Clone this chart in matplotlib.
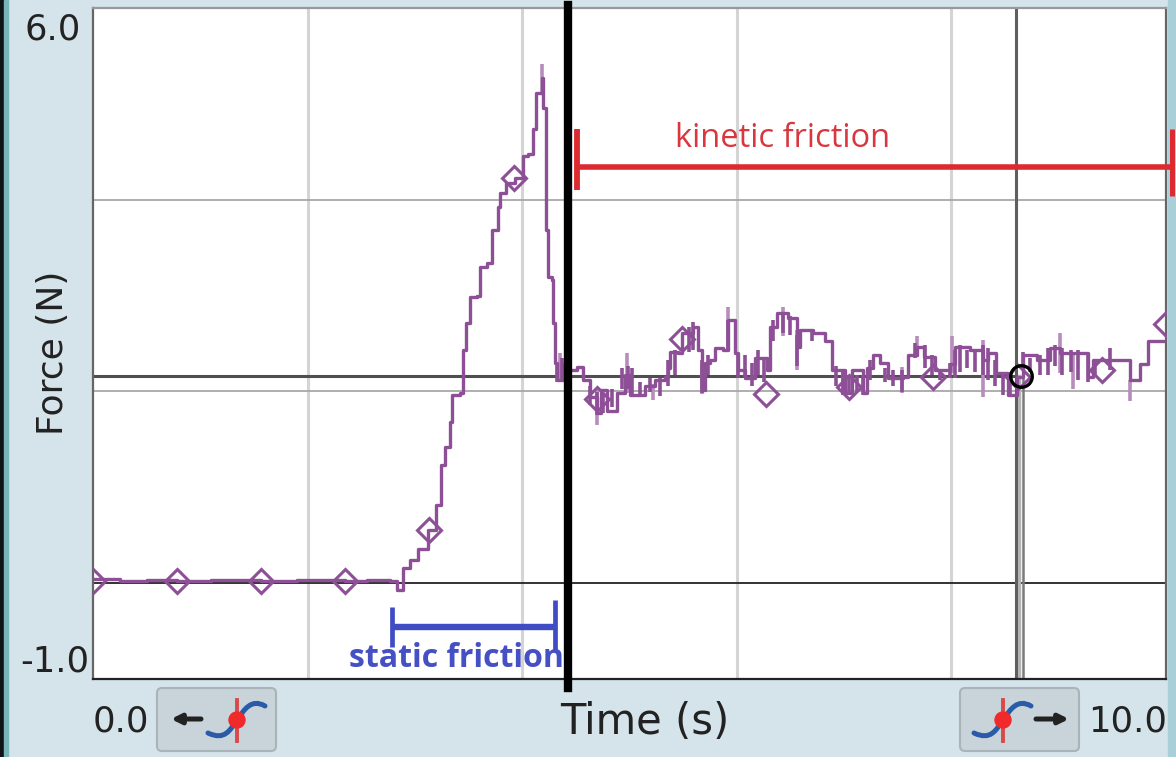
import matplotlib
matplotlib.use("Agg")
import matplotlib.pyplot as plt
from matplotlib.patches import FancyBboxPatch, Rectangle, Circle, PathPatch
from matplotlib.path import Path

# ---- data (time in s, force in N) ----
time_s = [0.00,0.25,0.50,0.78,1.10,1.57,1.90,2.35,2.55,2.77,2.83,2.89,2.95,3.03,3.12,3.20,3.24,3.28,3.33,3.35,3.42,3.45,3.48,3.51,
          3.58,3.61,3.67,3.72,3.77,3.79,3.85,3.93,4.01,4.05,4.10,4.13,4.18,4.19,4.22,4.24,4.28,4.29,4.31,4.32,
          4.37,4.38,4.43,4.51,4.57,4.63,4.70,4.73,4.79,4.88,4.96,5.00,5.07,5.14,5.24,5.33,5.36,5.38,5.45,5.49,
          5.59,5.64,5.68,5.70,5.75,5.80,5.87,5.92,5.98,6.01,6.08,6.17,6.28,6.31,6.37,6.48,6.56,6.59,6.71,6.82,
          6.89,7.01,7.07,7.18,7.21,7.27,7.33,7.41,7.55,7.60,7.68,7.74,7.85,7.99,8.03,8.17,8.29,8.34,8.42,8.53,
          8.61,8.67,8.80,8.92,9.01,9.17,9.27,9.32,9.48,9.66,9.76,9.83,9.97]
force_n = [0.04,0.02,0.03,0.02,0.03,0.02,0.03,0.02,0.03,0.02,-0.07,0.16,0.24,0.36,0.55,0.81,1.23,1.42,1.68,1.96,1.98,2.43,2.71,2.98,
           3.00,3.30,3.34,3.68,3.92,4.07,4.17,4.23,4.46,4.48,4.74,5.11,5.27,4.96,3.68,3.19,3.16,2.71,2.30,2.12,
           2.29,2.12,2.22,2.25,2.12,1.94,1.77,2.01,1.80,1.98,2.17,1.96,1.96,2.06,2.12,2.15,2.24,2.41,2.40,2.61,
           2.67,2.43,2.01,2.30,2.33,2.45,2.43,2.74,2.40,2.22,2.14,2.35,2.22,2.67,2.82,2.77,2.46,2.64,2.61,2.53,
           2.22,1.98,2.22,1.98,2.24,2.38,2.30,2.14,2.15,2.38,2.46,2.36,2.22,2.29,2.46,2.43,2.33,2.40,2.19,1.96,
           2.15,2.38,2.33,2.45,2.40,2.40,2.15,2.33,2.33,2.12,2.29,2.53,2.53]
spike_t  = [4.18,4.35,4.70,4.98,5.22,5.68,5.92,6.43,6.56,6.99,7.54,7.68,8.01,8.29,9.01,9.13,9.66]
spike_hi = [5.42,2.40,2.01,2.40,2.08,2.30,2.88,2.88,2.64,2.22,2.25,2.58,2.58,2.54,2.61,2.40,2.12]
spike_lo = [5.11,2.12,1.65,1.98,1.91,1.97,2.43,2.58,2.22,1.96,1.98,2.36,2.19,1.94,2.19,2.03,1.90]
dense_t  = [4.32,4.37,4.63,4.70,4.75,4.84,4.93,4.99,5.02,5.10,5.19,5.28,5.36,5.42,5.55,5.59,5.68,5.73,5.92,6.01,
            6.08,6.14,6.20,6.25,6.34,6.43,6.50,6.56,6.70,6.92,6.99,7.05,7.12,7.18,7.24,7.38,7.46,7.54,7.66,7.75,
            7.82,7.89,7.99,8.03,8.08,8.15,8.22,8.29,8.34,8.41,8.48,8.55,8.67,8.73,8.83,8.90,8.97,9.03,9.11,9.18,
            9.27,9.34,9.48]
dense_hi = [2.30,2.35,2.06,1.99,1.96,2.03,2.24,2.27,2.24,2.10,2.14,2.14,2.33,2.43,2.67,2.72,2.33,2.38,2.74,2.38,
            2.38,2.30,2.43,2.35,2.74,2.83,2.79,2.59,2.64,2.27,2.22,2.17,2.17,2.17,2.33,2.24,2.22,2.22,2.51,2.48,
            2.38,2.22,2.30,2.43,2.48,2.43,2.43,2.48,2.45,2.33,2.17,2.12,2.41,2.35,2.38,2.45,2.48,2.45,2.43,2.43,
            2.38,2.33,2.45]
dense_lo = [2.10,2.12,1.86,1.75,1.78,1.84,2.03,2.03,1.96,1.95,1.99,1.95,2.06,2.17,2.41,2.43,1.98,2.17,2.43,2.14,
            2.14,2.06,2.17,2.10,2.53,2.61,2.59,2.27,2.53,2.06,1.96,1.98,1.99,1.96,2.12,2.10,2.06,1.99,2.35,2.24,
            2.17,2.12,2.14,2.14,2.20,2.24,2.20,2.17,2.12,2.06,1.96,1.94,2.24,2.20,2.17,2.17,2.27,2.17,2.20,2.12,
            2.10,2.17,2.22]
marker_t = [0.00,0.78,1.57,2.35,3.13,3.92,4.70,5.49,6.27,7.05,7.83,8.62,9.40,10.0]
marker_f = [0.02,0.02,0.02,0.02,0.55,4.23,1.92,2.55,1.97,2.05,2.15,2.15,2.22,2.70]
cursor_t, cursor_f = 8.65, 2.16
x_ticks = [2, 4, 6, 8]
y_grid = [2, 4]
static_span = (2.79, 4.31)
kinetic_span = (4.51, 10.06)

W, H = 1176, 757
PURPLE = "#8d4f95"
BG = "#d5e3ea"
fig = plt.figure(figsize=(W/100, H/100), dpi=100, facecolor=BG)

# chrome layer, in image pixels
bg = fig.add_axes([0, 0, 1, 1], zorder=0)
bg.set_xlim(0, W); bg.set_ylim(H, 0); bg.axis("off")
bg.add_patch(Rectangle((0, 0), 4, H, color="#101414"))
bg.add_patch(Rectangle((4, 0), 4, H, color="#79b6bb"))
bg.add_patch(Rectangle((1168, 0), 8, H, color="#a9d0d8"))

def button(x0, cx, arrow_from, arrow_to):
    bg.add_patch(FancyBboxPatch((x0, 688), 119, 63, boxstyle="round,pad=0,rounding_size=5",
                                fc="#c8d4d9", ec="#a9b3b8", lw=1.5))
    verts = [(cx-29, 733), (cx-12, 741), (cx-7, 730), (cx, 720), (cx+7, 710), (cx+14, 698), (cx+28, 706)]
    codes = [Path.MOVETO] + [Path.CURVE4]*6
    bg.add_patch(PathPatch(Path(verts, codes), fc="none", ec="#2a5aa8", lw=3.6, capstyle="round"))
    bg.plot([cx, cx], [700, 741], color="#d84a4a", lw=2.8)
    bg.add_patch(Circle((cx, 720), 8, color="#f02a2a", zorder=3))
    bg.annotate("", xy=(arrow_to, 719), xytext=(arrow_from, 719),
                arrowprops=dict(arrowstyle="-|>", color="#222222", lw=3.6, mutation_scale=14, shrinkA=0, shrinkB=0))

button(157, 237, 201, 171)
button(960, 1003, 1036, 1069)

TXT = "#222222"
bg.text(81, 30, "6.0", ha="right", va="center", fontsize=25.5, color=TXT)
bg.text(89, 661, "-1.0", ha="right", va="center", fontsize=25.5, color=TXT)
bg.text(93, 721, "0.0", ha="left", va="center", fontsize=25.5, color=TXT)
bg.text(1167, 721, "10.0", ha="right", va="center", fontsize=25.5, color=TXT)
bg.text(645, 722, "Time (s)", ha="center", va="center", fontsize=30, color=TXT)
bg.text(53, 353, "Force (N)", ha="center", va="center", rotation=90, fontsize=26, color=TXT)

# plot
ax = fig.add_axes([93/W, 1-679/H, 1073/W, 671/H], zorder=1, facecolor="white")
ax.set_xlim(0, 10); ax.set_ylim(-1, 6)
ax.set_xticks([]); ax.set_yticks([])
for t in x_ticks:
    ax.axvline(t, color="#d4d4d4", lw=2.2, zorder=1)
for f in y_grid:
    ax.axhline(f, color="#a8a8a8", lw=1.3, zorder=1)
ax.axhline(0, color="#222222", lw=1.3, zorder=1.5)
for s in ax.spines.values():
    s.set_color("#666666"); s.set_linewidth(1.6)
ax.spines["bottom"].set_color("#222222")
ax.spines["top"].set_color("#999999")

# crosshair
ax.plot([0, 8.60], [2.16, 2.16], color="#4f4f4f", lw=2.2, zorder=2)
ax.plot([8.60, 8.60], [-1, 6], color="#5f5f5f", lw=2.2, zorder=2)
ax.plot([8.633, 8.633], [-1, 2.16], color="#b5b5b5", lw=2.5, zorder=1.9)
ax.plot([8.665, 8.665], [-1, 2.16], color="#7a7a7a", lw=1.8, zorder=2)

# trace
ax.vlines(spike_t, spike_lo, spike_hi, color="#b78dbc", lw=2.6, zorder=3)
ax.vlines(dense_t, dense_lo, dense_hi, color=PURPLE, lw=2.6, zorder=3.5)
ax.plot(time_s, force_n, drawstyle="steps-post", color=PURPLE, lw=2.4, zorder=4)
ax.plot(marker_t, marker_f, ls="none", marker="D", ms=12.5, mfc="none", mec=PURPLE, mew=2.2, zorder=4, clip_on=True)
ax.plot([cursor_t], [cursor_f], ls="none", marker="o", ms=15.5, mfc="none", mec="black", mew=2.4, zorder=5)

# annotations
ax.plot(static_span, [-0.46, -0.46], color="#3f4cc4", lw=4.6, zorder=6, solid_capstyle="butt")
ax.plot([static_span[0]]*2, [-0.25, -0.67], color="#3f4cc4", lw=3.4, zorder=6, solid_capstyle="butt")
ax.plot([static_span[1]]*2, [-0.18, -0.70], color="#3f4cc4", lw=3.4, zorder=6, solid_capstyle="butt")
ax.plot(kinetic_span, [4.34, 4.34], color="#dc2a30", lw=4.0, zorder=6, solid_capstyle="butt", clip_on=False)
ax.plot([kinetic_span[0]]*2, [4.10, 4.74], color="#dc2a30", lw=4.2, zorder=6, solid_capstyle="butt")
ax.plot([kinetic_span[1]]*2, [4.04, 4.74], color="#dc2a30", lw=3.6, zorder=6, solid_capstyle="butt", clip_on=False)
ax.text(6.43, 4.64, "kinetic friction", ha="center", va="center", color="#d9363e", fontsize=23.5, family="Open Sans", zorder=7)
ax.text(3.39, -0.79, "static friction", ha="center", va="center", color="#4450c4", fontsize=23, family="Open Sans",
        weight="bold", zorder=7)
ax.plot([4.43, 4.43], [-1.09, 6.03], color="black", lw=6.0, zorder=8, clip_on=False)

fig.savefig("out.png", dpi=100, facecolor=BG)
